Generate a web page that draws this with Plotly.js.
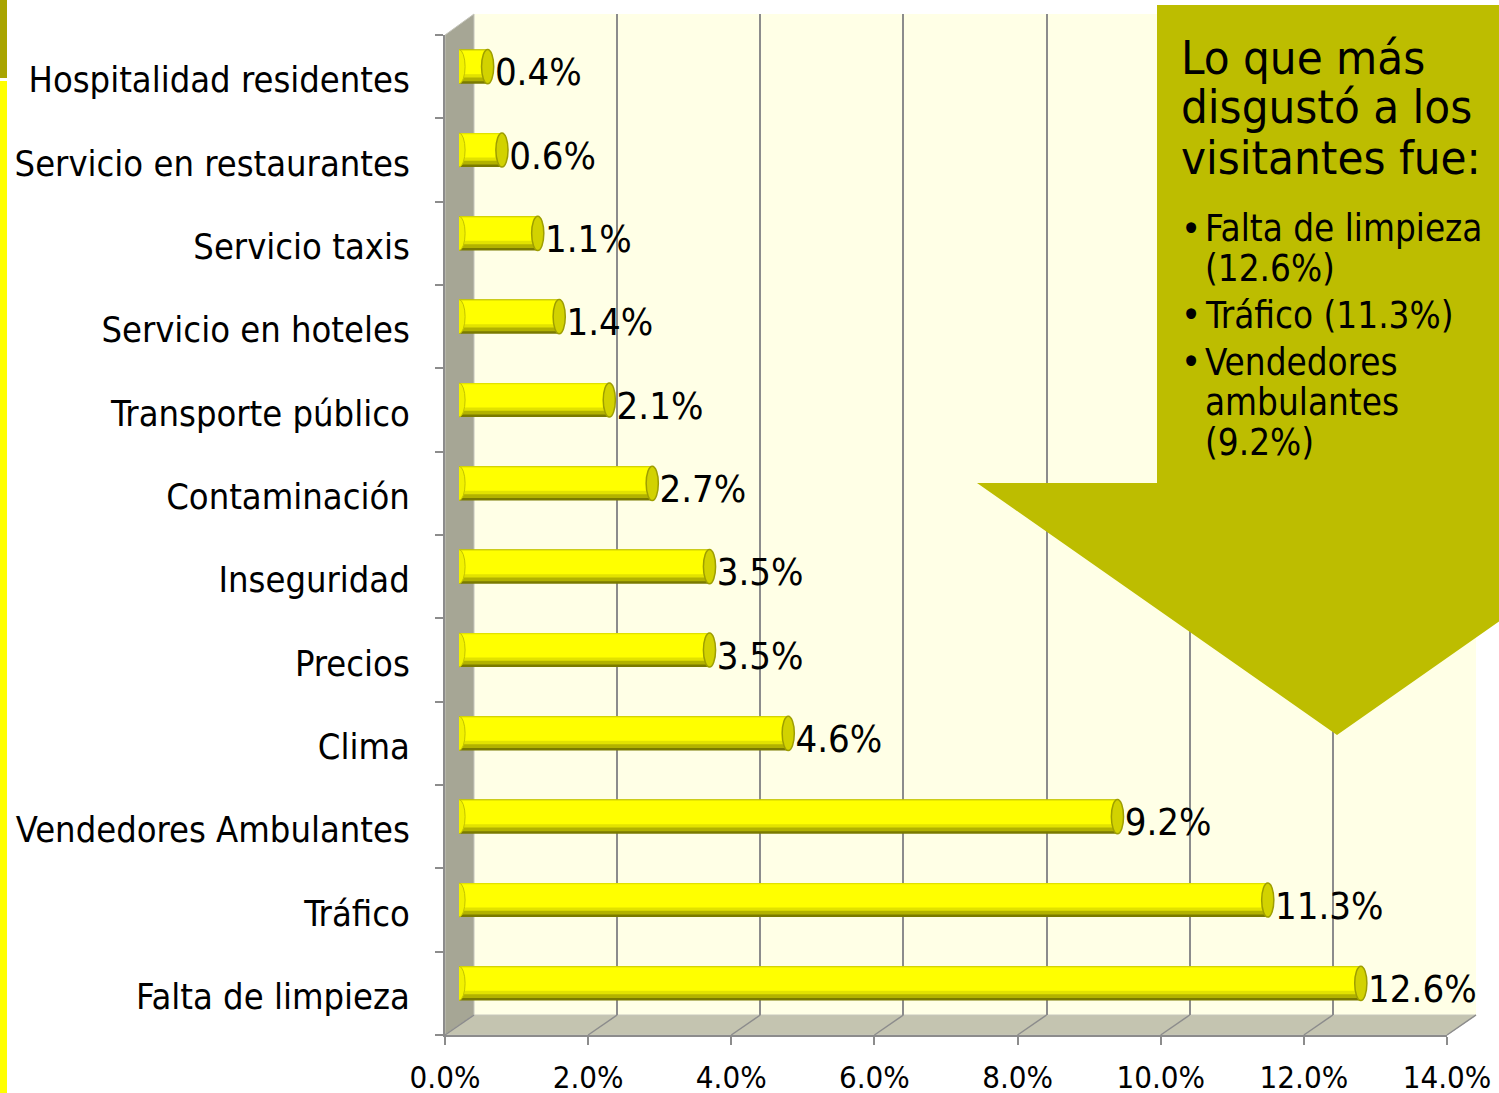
<!DOCTYPE html>
<html>
<head>
<meta charset="utf-8">
<script src="https://cdn.plot.ly/plotly-3.0.1.min.js"></script>
<style>html,body{margin:0;padding:0;background:#fff;}#chart{width:1499px;height:1093px;}</style>
</head>
<body>
<div id="chart"></div>
<script>
// ---- data ----
const categories = ["Falta de limpieza","Tráfico","Vendedores Ambulantes","Clima","Precios","Inseguridad","Contaminación","Transporte público","Servicio en hoteles","Servicio taxis","Servicio en restaurantes","Hospitalidad residentes"];
const values = [12.6, 11.3, 9.2, 4.6, 3.5, 3.5, 2.7, 2.1, 1.4, 1.1, 0.6, 0.4];
const xTickVals = [0, 2, 4, 6, 8, 10, 12, 14];
const xTickText = xTickVals.map(v => v.toFixed(1) + "%");
const calloutTitle = ["Lo que más", "disgustó a los", "visitantes fue:"];
const calloutItems = [["Falta de limpieza", "(12.6%)"], ["Tráfico (11.3%)"], ["Vendedores", "ambulantes", "(9.2%)"]];

// ---- geometry helpers ----
const W = 1499, H = 1093;
const fx = px => px / W;
const fy = py => 1 - py / H;
const FONT = "DejaVu Sans Condensed, DejaVu Sans, sans-serif";
const GRID = "#8C8C8C";

// front axes (ticks/labels), mid-depth (bars), back wall (grid)
const front = {x0: 445, x1: 1447, y0: 35, y1: 1035};
const mid = {x0: 459, x1: 1461, y0: 25, y1: 1025};
const back = {x0: 474, x1: 1476, y0: 14, y1: 1015};
const labelShift = 9;
const xRange = [0, 14];
const yRange = [-0.5, categories.length - 0.5];

const data = [];
// invisible trace for the back wall grid subplot
data.push({type: "scatter", x: values, y: values.map(() => 0.5), xaxis: "x", yaxis: "y",
  mode: "markers", marker: {opacity: 0}, hoverinfo: "skip", showlegend: false});
// invisible trace to establish front category axis
data.push({type: "scatter", x: values, y: categories, xaxis: "x2", yaxis: "y2",
  mode: "markers", marker: {opacity: 0}, hoverinfo: "skip", showlegend: false});

// bar shading layers (cylinder look)
const shades = [
  {color: "#7A7A00", offset: -0.205, width: 0.41},
  {color: "#B2B200", offset: -0.175, width: 0.38},
  {color: "#E2E200", offset: -0.13, width: 0.335},
  {color: "#FFFF00", offset: -0.09, width: 0.28}
];
shades.forEach(s => data.push({
  type: "bar", orientation: "h", x: values, y: categories, xaxis: "x3", yaxis: "y3",
  marker: {color: s.color, line: {width: 0}}, offset: s.offset, width: s.width,
  hoverinfo: "skip", showlegend: false
}));
// value labels
data.push({type: "scatter", x: values, y: categories, xaxis: "x3", yaxis: "y4",
  mode: "markers+text", marker: {size: 10, color: "rgba(0,0,0,0)"},
  text: values.map(v => v.toFixed(1) + "%"), textposition: "middle right",
  textfont: {family: FONT, size: 38, color: "#000"}, cliponaxis: false,
  hoverinfo: "skip", showlegend: false});

// ---- shapes ----
const shapes = [];
const poly = pts => "M" + pts.map(p => fx(p[0]) + "," + fy(p[1])).join(" L") + " Z";
// back wall
shapes.push({type: "rect", xref: "paper", yref: "paper", x0: fx(back.x0), x1: fx(back.x1), y0: fy(back.y1), y1: fy(back.y0),
  fillcolor: "#FFFFE6", line: {width: 0}, layer: "below"});
// left wall
shapes.push({type: "path", xref: "paper", yref: "paper", path: poly([[front.x0, front.y0], [back.x0, back.y0], [back.x0, back.y1], [front.x0, front.y1]]),
  fillcolor: "#A6A695", line: {color: "#C6C6BC", width: 1}, layer: "below"});
// floor
shapes.push({type: "path", xref: "paper", yref: "paper", path: poly([[front.x0, front.y1], [back.x0, back.y1], [back.x1, back.y1], [front.x1, front.y1]]),
  fillcolor: "#C4C4B0", line: {color: "#C6C6BC", width: 1}, layer: "below"});
// floor grid diagonals
xTickVals.forEach(v => {
  const t = (v - xRange[0]) / (xRange[1] - xRange[0]);
  const xf = front.x0 + t * (front.x1 - front.x0);
  const xb = back.x0 + t * (back.x1 - back.x0);
  shapes.push({type: "line", xref: "paper", yref: "paper", x0: fx(xf), y0: fy(front.y1), x1: fx(xb), y1: fy(back.y1),
    line: {color: GRID, width: 1.5}, layer: "below"});
});
// left ends and right caps of the cylinders
const capHalf = 0.085, barHalf = 0.205;
values.forEach((v, i) => {
  shapes.push({type: "circle", xref: "x3", yref: "y3", x0: -capHalf, x1: capHalf, y0: i - barHalf, y1: i + barHalf,
    fillcolor: "#F2F200", line: {color: "#C4C400", width: 1}, layer: "above"});
  shapes.push({type: "circle", xref: "x3", yref: "y3", x0: v - capHalf, x1: v + capHalf, y0: i - barHalf, y1: i + barHalf,
    fillcolor: "#D2D200", line: {color: "#9E9E00", width: 1.5}, layer: "above"});
});
// left edge strips
shapes.push({type: "rect", xref: "paper", yref: "paper", x0: 0, x1: fx(7), y0: fy(78), y1: 1, fillcolor: "#A8A400", line: {width: 0}, layer: "above"});
shapes.push({type: "rect", xref: "paper", yref: "paper", x0: 0, x1: fx(7), y0: 0, y1: fy(81), fillcolor: "#FFFF00", line: {width: 0}, layer: "above"});
// callout arrow
shapes.push({type: "path", xref: "paper", yref: "paper",
  path: poly([[1157, 5], [1517, 5], [1517, 483], [1697, 483], [1337, 735], [977, 483], [1157, 483]]),
  fillcolor: "#BDBD00", line: {width: 0}, layer: "above"});

// ---- annotations ----
const annotations = [];
const titleY = [57, 107, 157];
calloutTitle.forEach((t, i) => annotations.push({xref: "paper", yref: "paper", x: fx(1179), y: fy(titleY[i]),
  xanchor: "left", yanchor: "middle", text: t, showarrow: false, font: {family: FONT, size: 47, color: "#000"}}));
const itemY = [[229, 269], [315], [362, 402, 442]];
calloutItems.forEach((lines, k) => {
  annotations.push({xref: "paper", yref: "paper", x: fx(1179), y: fy(itemY[k][0]), xanchor: "left", yanchor: "middle",
    text: "•", showarrow: false, font: {family: FONT, size: 38, color: "#000"}});
  lines.forEach((t, j) => annotations.push({xref: "paper", yref: "paper", x: fx(1203), y: fy(itemY[k][j]),
    xanchor: "left", yanchor: "middle", text: t, showarrow: false, font: {family: FONT, size: 36.5, color: "#000"}}));
});

const hidden = {showgrid: false, zeroline: false, showticklabels: false, ticks: "", showline: false, fixedrange: true};
const layout = {
  width: W, height: H, autosize: false,
  margin: {l: 0, r: 0, t: 0, b: 0},
  paper_bgcolor: "#FFFFFF", plot_bgcolor: "rgba(0,0,0,0)",
  showlegend: false, barmode: "overlay",
  font: {family: FONT, color: "#000"},
  // back wall grid
  xaxis: Object.assign({}, hidden, {domain: [fx(back.x0), fx(back.x1)], range: xRange, anchor: "y",
    showgrid: true, gridcolor: GRID, gridwidth: 2, tickvals: xTickVals}),
  yaxis: Object.assign({}, hidden, {domain: [fy(back.y1), fy(back.y0)], range: [0, 1], anchor: "x"}),
  // front axes
  xaxis2: {domain: [fx(front.x0), fx(front.x1)], range: xRange, anchor: "y2",
    tickvals: xTickVals, ticktext: xTickText, showgrid: false, zeroline: false,
    showline: true, linecolor: GRID, linewidth: 2, ticks: "outside", ticklen: 8, tickcolor: GRID, tickwidth: 2,
    ticklabelstandoff: 6,
    tickfont: {family: FONT, size: 31, color: "#000"}, fixedrange: true},
  yaxis2: {domain: [fy(front.y1), fy(front.y0)], range: yRange, anchor: "x2", type: "category",
    categoryorder: "array", categoryarray: categories, tickson: "boundaries",
    showgrid: false, zeroline: false, showline: true, linecolor: GRID, linewidth: 2,
    ticks: "outside", ticklen: 8, tickcolor: GRID, tickwidth: 2, ticklabelstandoff: 26, ticklabelshift: 3,
    tickfont: {family: FONT, size: 36, color: "#000"}, fixedrange: true},
  // bars at mid depth
  xaxis3: Object.assign({}, hidden, {domain: [fx(mid.x0), fx(mid.x1)], range: xRange, anchor: "y3"}),
  yaxis3: Object.assign({}, hidden, {domain: [fy(mid.y1), fy(mid.y0)], range: yRange, anchor: "x3",
    type: "category", categoryorder: "array", categoryarray: categories}),
  // value labels, slightly below bar centre
  yaxis4: Object.assign({}, hidden, {domain: [fy(mid.y1 + labelShift), fy(mid.y0 + labelShift)], range: yRange, anchor: "x3",
    type: "category", categoryorder: "array", categoryarray: categories}),
  shapes: shapes,
  annotations: annotations
};

Plotly.newPlot("chart", data, layout, {displayModeBar: false, staticPlot: true});
</script>
</body>
</html>
